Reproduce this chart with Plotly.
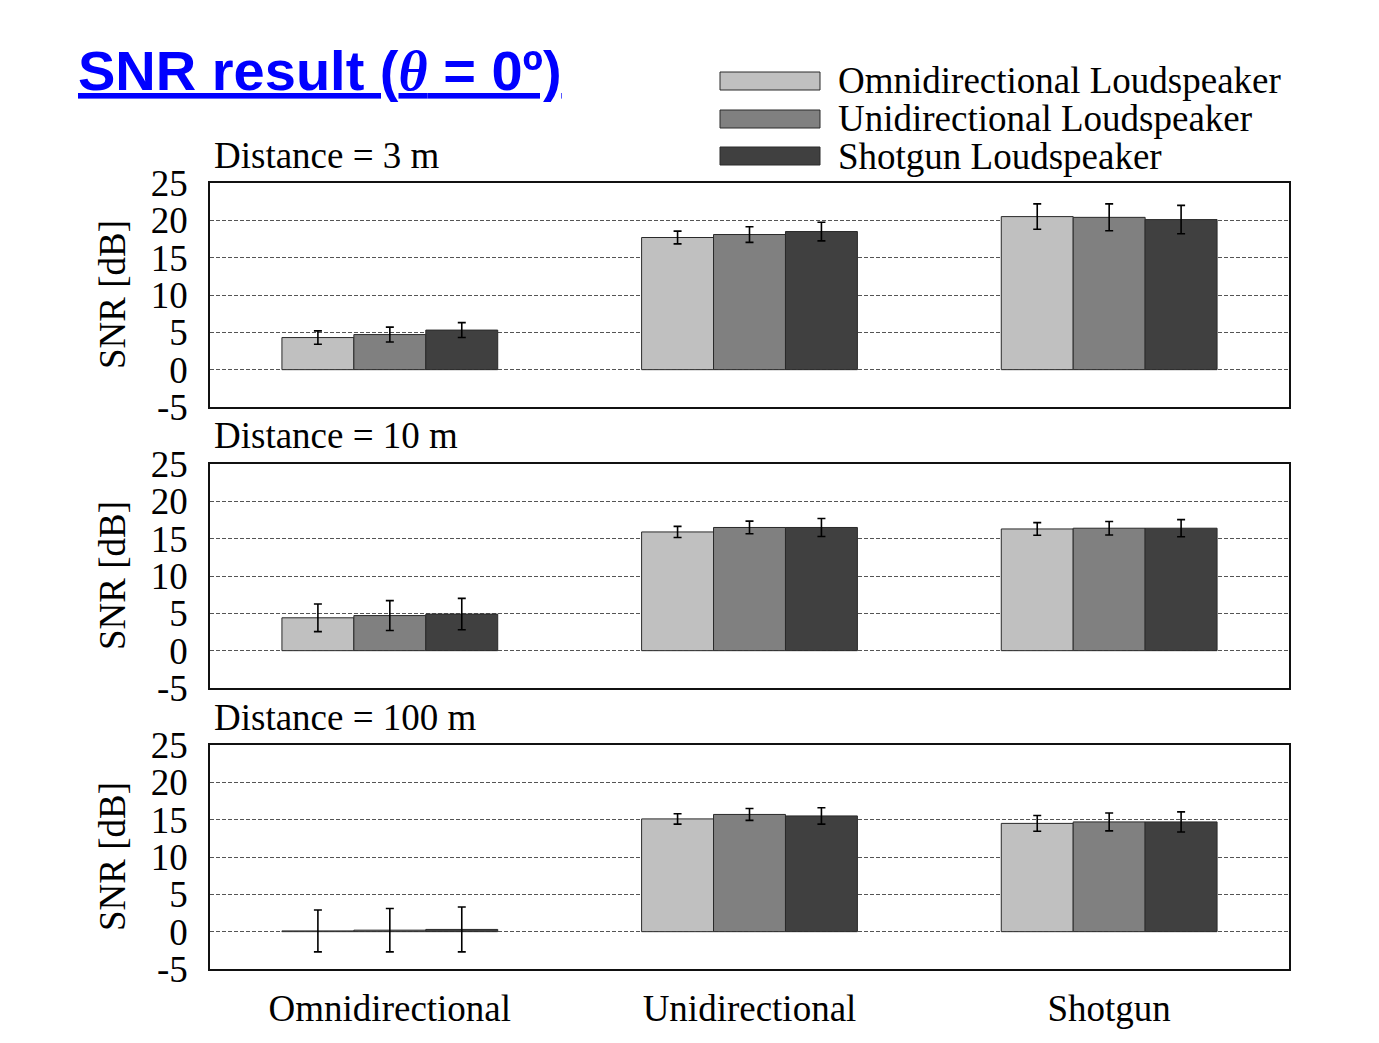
import plotly.graph_objects as go

categories = ["Omnidirectional", "Unidirectional", "Shotgun"]
series_names = ["Omnidirectional Loudspeaker", "Unidirectional Loudspeaker", "Shotgun Loudspeaker"]
distances = ["Distance = 3 m", "Distance = 10 m", "Distance = 100 m"]

# SNR values [dB]; each list = one loudspeaker series, items = categories
snr_3m_omni_ls = [4.3, 17.7, 20.5]
snr_3m_uni_ls = [4.7, 18.1, 20.4]
snr_3m_shot_ls = [5.3, 18.5, 20.1]
err_3m_omni_ls = [0.9, 0.85, 1.7]
err_3m_uni_ls = [1.0, 1.05, 1.8]
err_3m_shot_ls = [1.0, 1.25, 1.9]

snr_10m_omni_ls = [4.4, 15.9, 16.3]
snr_10m_uni_ls = [4.7, 16.5, 16.4]
snr_10m_shot_ls = [4.9, 16.5, 16.4]
err_10m_omni_ls = [1.85, 0.75, 0.85]
err_10m_uni_ls = [2.0, 0.85, 0.9]
err_10m_shot_ls = [2.1, 1.2, 1.15]

snr_100m_omni_ls = [0.1, 15.1, 14.5]
snr_100m_uni_ls = [0.2, 15.7, 14.7]
snr_100m_shot_ls = [0.3, 15.5, 14.7]
err_100m_omni_ls = [2.8, 0.7, 1.05]
err_100m_uni_ls = [2.9, 0.8, 1.2]
err_100m_shot_ls = [3.0, 1.1, 1.35]

y_ticks = [-5, 0, 5, 10, 15, 20, 25]

panels = [
    ([snr_3m_omni_ls, snr_3m_uni_ls, snr_3m_shot_ls], [err_3m_omni_ls, err_3m_uni_ls, err_3m_shot_ls]),
    ([snr_10m_omni_ls, snr_10m_uni_ls, snr_10m_shot_ls], [err_10m_omni_ls, err_10m_uni_ls, err_10m_shot_ls]),
    ([snr_100m_omni_ls, snr_100m_uni_ls, snr_100m_shot_ls], [err_100m_omni_ls, err_100m_uni_ls, err_100m_shot_ls]),
]

colors = ["#c0c0c0", "#808080", "#404040"]
SERIF = "Liberation Serif"
FS = 37

OFF = 8  # page body margin
W, H = 1379 - OFF, 1043 - OFF
L, R, T, B = 210, 1289, 183, 969
pw, ph = R - L, B - T

def px(x):
    return (x - L) / pw

def py(y):
    return (B - y) / ph

domains = [[py(407), py(183)], [py(688), py(464)], [py(969), py(745)]]

fig = go.Figure()
for i, (vals, errs) in enumerate(panels):
    sfx = "" if i == 0 else str(i + 1)
    for j in range(3):
        fig.add_trace(go.Bar(
            x=categories, y=vals[j], name=series_names[j],
            marker=dict(color=colors[j], line=dict(color="#2a2a2a", width=1)),
            error_y=dict(type="data", array=errs[j], color="black", thickness=1.6, width=4),
            xaxis="x" + sfx, yaxis="y" + sfx, showlegend=False,
        ))

layout = dict(
    width=W, height=H,
    margin=dict(l=L - OFF, r=1379 - R, t=T - OFF, b=1043 - B, pad=0),
    plot_bgcolor="white", paper_bgcolor="white",
    barmode="group", bargap=0.4, bargroupgap=0,
    font=dict(family=SERIF, size=FS, color="black"),
    showlegend=False,
)
for i in range(3):
    sfx = "" if i == 0 else str(i + 1)
    layout["xaxis" + sfx] = dict(
        domain=[0, 1], anchor="y" + sfx, type="category",
        showline=True, mirror=True, linecolor="#111", linewidth=1.5,
        showgrid=False, ticks="", showticklabels=(i == 2),
        tickfont=dict(family=SERIF, size=FS), ticklabelstandoff=6,
        matches=None if i == 0 else "x",
    )
    layout["yaxis" + sfx] = dict(
        domain=domains[i], anchor="x" + sfx, range=[-5, 25],
        tickvals=y_ticks, ticktext=[str(v) for v in y_ticks],
        showline=True, mirror=True, linecolor="#111", linewidth=1.5,
        showgrid=True, gridcolor="#555", gridwidth=1, griddash="4px,2px",
        zeroline=False, ticks="", ticklabelstandoff=13,
        tickfont=dict(family=SERIF, size=FS),
    )
fig.update_layout(**layout)

annotations = []
shapes = []
for i in range(3):
    sfx = "" if i == 0 else str(i + 1)
    annotations.append(dict(
        text="SNR [dB]", textangle=-90, xref="paper", x=px(112), xanchor="center",
        yref=f"y{sfx} domain", y=0.5, yanchor="middle", showarrow=False,
        font=dict(family=SERIF, size=FS),
    ))
    annotations.append(dict(
        text=distances[i], xref="paper", x=px(212), xanchor="left",
        yref=f"y{sfx} domain", y=1, yanchor="middle", yshift=28, showarrow=False,
        font=dict(family=SERIF, size=FS),
    ))

legend_rows = [(72, 90), (110, 128), (147, 165)]
for j, (y0, y1) in enumerate(legend_rows):
    shapes.append(dict(type="rect", xref="paper", yref="paper",
                       x0=px(720), x1=px(820), y0=py(y1), y1=py(y0),
                       fillcolor=colors[j], line=dict(color="#2a2a2a", width=1)))
    annotations.append(dict(
        text=series_names[j], xref="paper", yref="paper",
        x=px(836), xanchor="left", y=py((y0 + y1) / 2), yanchor="middle",
        showarrow=False, font=dict(family=SERIF, size=FS),
    ))

annotations.append(dict(
    text="<u><b>SNR result (<span style='font-family:Liberation Serif'><i>θ</i></span> = 0º)</b></u>",
    xref="paper", yref="paper", x=px(76), xanchor="left", y=py(70), yanchor="middle",
    showarrow=False, font=dict(family="Liberation Sans", size=56, color="#0000ff"),
))

fig.update_layout(annotations=annotations, shapes=shapes)
fig.write_html("out.html")
